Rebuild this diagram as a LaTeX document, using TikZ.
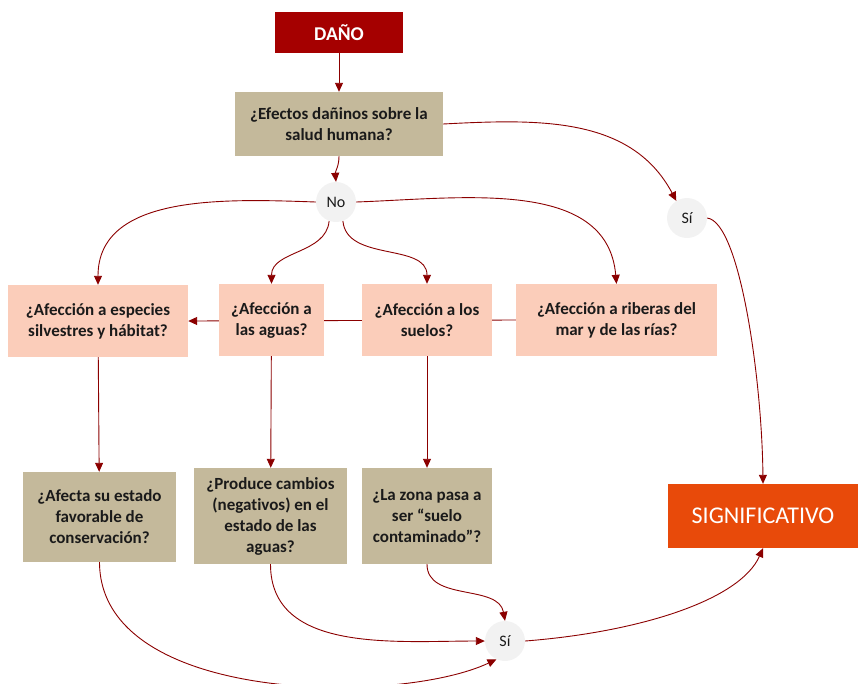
\documentclass[tikz,border=0pt]{standalone}
\usepackage{fontspec}
\setmainfont{Carlito}[Ligatures=NoCommon]
\usetikzlibrary{arrows.meta,backgrounds}

\definecolor{danored}{HTML}{A50000}
\definecolor{tanbox}{HTML}{C4B99B}
\definecolor{peachbox}{HTML}{FBCDBA}
\definecolor{signifbox}{HTML}{E84A0A}
\definecolor{circlefill}{HTML}{F2F2F2}
\definecolor{linkred}{HTML}{8B0000}
\definecolor{textdark}{HTML}{1A1A1A}

\tikzset{
  box/.style={rectangle, inner sep=0pt, align=center, text=textdark,
    font=\bfseries\fontsize{17}{21}\selectfont},
  tanq/.style={box, fill=tanbox},
  peachq/.style={box, fill=peachbox},
  answer/.style={circle, fill=circlefill, minimum size=40pt, inner sep=0pt,
    text=textdark, font=\fontsize{16}{18}\selectfont},
  link/.style={draw=linkred, line width=0.9pt,
    -{Triangle[length=9pt,width=8pt]}},
}

\begin{document}
\begin{tikzpicture}[x=1pt, y=-1pt]
\useasboundingbox (0,0) rectangle (858,683);

% top of the tree
\node[box, fill=danored, text=white, minimum width=128pt, minimum height=41pt,
  font=\bfseries\fontsize{19.5}{22}\selectfont] (dano) at (339,32.5) {DAÑO};
\node[tanq, minimum width=208pt, minimum height=64pt] (salud) at (339,124)
  {¿Efectos dañinos sobre la\\salud humana?};
\node[answer] (no) at (336,202) {No};
\node[answer] (siA) at (687,218) {Sí};

% affected media
\node[peachq, minimum width=180pt, minimum height=72pt] (especies) at (98,321)
  {¿Afección a especies\\silvestres y hábitat?};
\node[peachq, minimum width=105pt, minimum height=72pt] (aguas) at (271.5,320)
  {¿Afección a\\las aguas?};
\node[peachq, minimum width=130pt, minimum height=72pt] (suelos) at (427,320)
  {¿Afección a los\\suelos?};
\node[peachq, minimum width=201pt, minimum height=72pt] (riberas) at (616.5,320)
  {¿Afección a riberas del\\mar y de las rías?};

% follow-up questions
\node[tanq, minimum width=153pt, minimum height=90pt] (estado) at (99.5,517)
  {¿Afecta su estado\\favorable de\\conservación?};
\node[tanq, minimum width=153pt, minimum height=96pt] (cambios) at (270.5,516)
  {¿Produce cambios\\(negativos) en el\\estado de las\\aguas?};
\node[tanq, minimum width=130pt, minimum height=96pt] (zona) at (427,516)
  {¿La zona pasa a\\ser “suelo\\contaminado”?};

\node[box, fill=signifbox, text=white, minimum width=190pt, minimum height=64pt,
  font=\fontsize{24}{28}\selectfont] (signif) at (763,516) {SIGNIFICATIVO};
\node[answer] (siB) at (505,641) {Sí};

\begin{scope}[on background layer]
  \draw[link] (dano) -- (salud);
  \draw[link] (salud.south) to[out=-90,in=95] (no.north);
  \draw[link] (salud.east) to[out=3,in=118] (siA.122);
  \draw[link] (siA.east) .. controls (740,222) and (762,380) .. (signif.north);

  \draw[link] (no.west) to[out=178,in=90] (especies.north);
  \draw[link] (no.250) to[out=-95,in=90] (aguas.north);
  \draw[link] (no.290) to[out=-85,in=90] (suelos.north);
  \draw[link] (no.east) to[out=2,in=95] (riberas.north);

  \draw[link] (riberas.west) -- (especies.east);

  \draw[link] (especies) -- (estado);
  \draw[link] (aguas) -- (cambios);
  \draw[link] (suelos) -- (zona);

  \draw[link] (estado.south) .. controls (100,705) and (400,705) .. (siB.245);
  \draw[link] (cambios.south) to[out=-90,in=180] (siB.west);
  \draw[link] (zona.south) to[out=-90,in=100] (siB.north);
  \draw[link] (siB.east) .. controls (640,632) and (740,600) .. (signif.south);
\end{scope}
\end{tikzpicture}
\end{document}
